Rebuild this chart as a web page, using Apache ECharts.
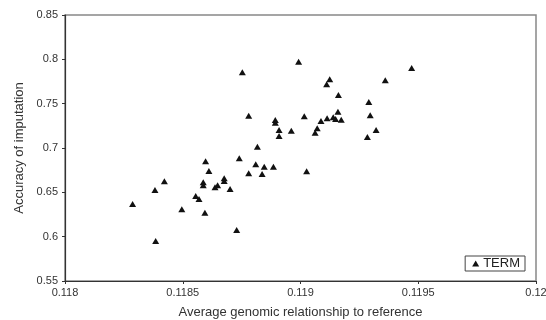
<!DOCTYPE html>
<html>
<head>
<meta charset="utf-8">
<script src="https://cdn.jsdelivr.net/npm/echarts@6/dist/echarts.min.js"></script>
<style>
  html, body { margin: 0; padding: 0; background: #fff; }
  #chart { width: 546px; height: 320px; }
</style>
</head>
<body>
<div id="chart"></div>
<script>
// average genomic relationship to reference
var relationship = [
  0.118287, 0.118382, 0.118385, 0.118422, 0.118496, 0.118555, 0.118569, 0.118594,
  0.118597, 0.118611, 0.118587, 0.118587, 0.118637, 0.118648, 0.118676, 0.118676,
  0.118701, 0.118729, 0.118740, 0.118753, 0.118780, 0.118780, 0.118810, 0.118817,
  0.118837, 0.118846, 0.118885, 0.118893, 0.118893, 0.118909, 0.118909, 0.118961,
  0.118992, 0.119016, 0.119026, 0.119062, 0.119071, 0.119087, 0.119113, 0.119111,
  0.119124, 0.119139, 0.119149, 0.119159, 0.119161, 0.119173, 0.119284, 0.119290,
  0.119296, 0.119321, 0.119360, 0.119472
];
// accuracy of imputation
var accuracy = [
  0.6368, 0.6526, 0.5951, 0.6624, 0.6309, 0.6459, 0.6425, 0.6270,
  0.6850, 0.6741, 0.6613, 0.6579, 0.6557, 0.6580, 0.6658, 0.6628,
  0.6538, 0.6075, 0.6884, 0.7854, 0.7364, 0.6715, 0.6816, 0.7015,
  0.6707, 0.6789, 0.6789, 0.7316, 0.7285, 0.7203, 0.7135, 0.7195,
  0.7973, 0.7358, 0.6737, 0.7173, 0.7222, 0.7305, 0.7335, 0.7718,
  0.7775, 0.7346, 0.7327, 0.7409, 0.7598, 0.7319, 0.7124, 0.7519,
  0.7369, 0.7203, 0.7764, 0.7902
];
var seriesName = 'TERM';
var xTicks = [0.118, 0.1185, 0.119, 0.1195, 0.12];
var yTicks = [0.55, 0.6, 0.65, 0.7, 0.75, 0.8, 0.85];

var points = relationship.map(function (x, i) { return [x, accuracy[i]]; });
var font = '"Liberation Sans", Arial, sans-serif';

var chart = echarts.init(document.getElementById('chart'));
chart.setOption({
  backgroundColor: '#fff',
  animation: false,
  grid: {
    left: 65, right: 10, top: 15, bottom: 39,
    outerBoundsMode: 'none',
    containLabel: false,
    show: true,
    borderColor: '#888',
    borderWidth: 1.5
  },
  legend: {
    right: 21, bottom: 49,
    data: [seriesName],
    icon: 'triangle',
    itemWidth: 7, itemHeight: 6, itemGap: 4,
    padding: [1, 5, 1, 7],
    borderColor: '#444', borderWidth: 1,
    textStyle: { fontFamily: font, fontSize: 13, color: '#222', padding: [0, 0, 0, -1] }
  },
  xAxis: {
    type: 'value',
    min: xTicks[0], max: xTicks[xTicks.length - 1], interval: 0.0005,
    name: 'Average genomic relationship to reference',
    nameLocation: 'middle', nameGap: 25,
    nameTextStyle: { fontFamily: font, fontSize: 13, color: '#333' },
    axisLine: { lineStyle: { color: '#333', width: 1.2 } },
    axisTick: { show: true, length: 3, lineStyle: { color: '#333' } },
    axisLabel: {
      fontFamily: font, fontSize: 11, color: '#333', margin: 6,
      formatter: function (v) { return String(parseFloat(v.toFixed(4))); }
    },
    splitLine: { show: false }
  },
  yAxis: {
    type: 'value',
    min: yTicks[0], max: yTicks[yTicks.length - 1], interval: 0.05,
    name: 'Accuracy of imputation',
    nameLocation: 'middle', nameGap: 39, nameRotate: 90,
    nameTextStyle: { fontFamily: font, fontSize: 13, color: '#333' },
    axisLine: { lineStyle: { color: '#333', width: 1.2 } },
    axisTick: { show: true, length: 3, lineStyle: { color: '#333' } },
    axisLabel: {
      fontFamily: font, fontSize: 11, color: '#333', margin: 7,
      formatter: function (v) { return String(parseFloat(v.toFixed(2))); }
    },
    splitLine: { show: false }
  },
  series: [{
    name: seriesName,
    type: 'scatter',
    symbol: 'triangle',
    symbolSize: [7, 6],
    itemStyle: { color: '#111', opacity: 1 },
    data: points
  }]
});
</script>
</body>
</html>
